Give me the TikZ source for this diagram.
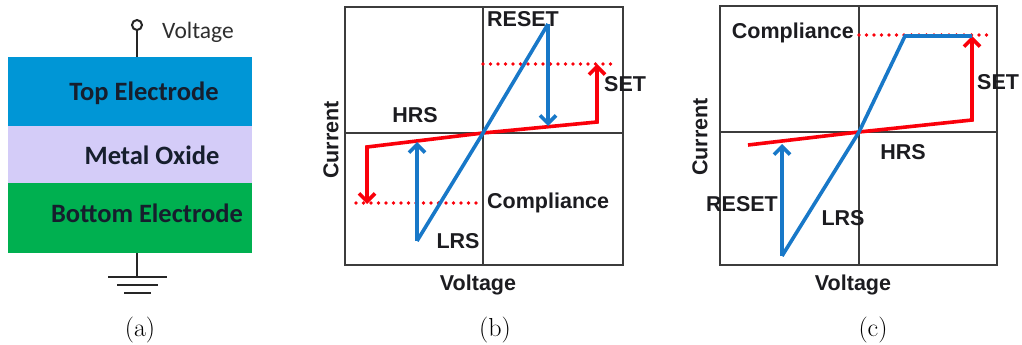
\documentclass[tikz,border=0pt]{standalone}
\usepackage{fontspec}
\newfontfamily\labfont{Liberation Sans}
\newfontfamily\calfont{Carlito}
\usetikzlibrary{arrows.meta}
\definecolor{topblue}{RGB}{0,150,214}
\definecolor{oxide}{RGB}{212,204,248}
\definecolor{botgreen}{RGB}{0,176,80}
\definecolor{curveblue}{RGB}{24,120,200}
\definecolor{curvered}{RGB}{250,0,10}
\definecolor{labelcol}{RGB}{28,28,32}
\definecolor{layertext}{RGB}{22,30,45}
\definecolor{framecol}{RGB}{60,60,60}
\tikzset{
  frameline/.style={draw=framecol, line width=2.2pt},
  blueline/.style={draw=curveblue, line width=3.6pt, line join=miter},
  redline/.style={draw=curvered, line width=3.6pt, line join=miter},
  barbend/.style={-{Straight Barb[length=8pt,width=16pt]}},
  barbboth/.style={{Straight Barb[length=8pt,width=16pt]}-{Straight Barb[length=8pt,width=16pt]}},
  dotline/.style={draw=curvered, line width=3.8pt, dash pattern=on 0pt off 7.5pt, line cap=round},
  lbl/.style={font=\labfont\bfseries\fontsize{21.5}{24}\selectfont, text=labelcol, inner sep=0pt},
  layerlbl/.style={font=\calfont\bfseries\fontsize{26.5}{28}\selectfont, text=layertext, inner sep=0pt},
  caplbl/.style={font=\fontsize{26}{30}\selectfont, inner sep=0pt},
  wire/.style={draw=black!85, line width=2.4pt}
}
\begin{document}
\begin{tikzpicture}[x=1pt,y=-1pt]
\useasboundingbox (0,0) rectangle (1022,345);
% ---------- panel (a)
\fill[topblue] (8,57) rectangle (252,126);
\fill[oxide] (8,126) rectangle (252,183);
\fill[botgreen] (8,183) rectangle (252,253);
\node[layerlbl] (te) at (144,93) {Top Electrode};
\node[layerlbl] (mo) at (152,155) {Metal Oxide};
\node[layerlbl] (be) at (147,213) {Bottom Electrode};
\node[circle, draw=black!85, line width=2pt, minimum size=10pt, inner sep=0pt] (term) at (137,25) {};
\coordinate (topc) at (137,57);
\draw[wire] (term.south) -- (topc);
\node[font=\calfont\fontsize{23.5}{26}\selectfont, text=black!82, anchor=west, inner sep=0pt] (volt) at (162,32) {Voltage};
\coordinate (botc) at (137,253);
\coordinate (g1) at (137,277);
\draw[wire] (botc) -- (g1);
\draw[wire] (108,277) -- (167,277);
\draw[wire] (117,285) -- (158,285);
\draw[wire] (124,293) -- (151,293);
\node[caplbl] (capa) at (140,330) {(a)};
% ---------- panel (b)
\draw[frameline] (345,7) rectangle (623,265);
\coordinate (bT) at (483,7); \coordinate (bB) at (483,265);
\coordinate (bL) at (345,133); \coordinate (bR) at (623,133);
\draw[frameline] (bT) -- (bB);
\draw[frameline] (bL) -- (bR);
\coordinate (bO) at (483,133);
\coordinate (bLow) at (417,241);
\coordinate (bHigh) at (548,24);
\coordinate (bDownEnd) at (548,126);
\coordinate (bUpEnd) at (417,142);
\coordinate (bRl) at (367,147);
\coordinate (bRlEnd) at (367,204);
\coordinate (bRr) at (597,122);
\coordinate (bRrEnd) at (597,64);
\coordinate (bD1a) at (483,64); \coordinate (bD1b) at (612,64);
\coordinate (bD2a) at (356,203); \coordinate (bD2b) at (483,203);
\draw[dotline] (bD1a) -- (bD1b);
\draw[dotline] (bD2a) -- (bD2b);
\draw[redline, barbboth] (bRlEnd) -- (bRl) -- (bO) -- (bRr) -- (bRrEnd);
\draw[blueline] (bLow) -- (bO) -- (bHigh);
\draw[blueline, barbend] (bHigh) -- (bDownEnd);
\draw[blueline, barbend] (bLow) -- (bUpEnd);
\node[lbl] (bReset) at (523,19) {RESET};
\node[lbl, anchor=west] (bSet) at (604,84) {SET};
\node[lbl] (bHrs) at (415,115) {HRS};
\node[lbl, anchor=west] (bComp) at (487,203) {Compliance};
\node[lbl] (bLrs) at (458,241) {LRS};
\node[lbl] (bVolt) at (478,285) {Voltage};
\node[lbl, rotate=90] (bCur) at (331,140) {Current};
\node[caplbl] (capb) at (495,330) {(b)};
% ---------- panel (c)
\draw[frameline] (720,6) rectangle (997,265);
\coordinate (cT) at (859,6); \coordinate (cB) at (859,265);
\coordinate (cL) at (720,132); \coordinate (cR) at (997,132);
\draw[frameline] (cT) -- (cB);
\draw[frameline] (cL) -- (cR);
\coordinate (cO) at (859,132);
\coordinate (cLow) at (782,256);
\coordinate (cKnee) at (905,36);
\coordinate (cEnd) at (972,36);
\coordinate (cUpEnd) at (782,144);
\coordinate (cRl) at (748,145);
\coordinate (cRr) at (972,120);
\coordinate (cRrEnd) at (972,36);
\coordinate (cD1a) at (859,35); \coordinate (cD1b) at (988,35);
\draw[dotline] (cD1a) -- (cD1b);
\draw[redline, barbend] (cRl) -- (cO) -- (cRr) -- (cRrEnd);
\draw[blueline] (cLow) -- (cO) -- (cKnee) -- (cEnd);
\draw[blueline, barbend] (cLow) -- (cUpEnd);
\node[lbl, anchor=east] (cComp) at (854,33) {Compliance};
\node[lbl, anchor=west] (cSet) at (977,82) {SET};
\node[lbl] (cHrs) at (903,152) {HRS};
\node[lbl] (cReset) at (742,204) {RESET};
\node[lbl] (cLrs) at (843,218) {LRS};
\node[lbl] (cVolt) at (853,285) {Voltage};
\node[lbl, rotate=90] (cCur) at (700,137) {Current};
\node[caplbl] (capc) at (873,330) {(c)};
\end{tikzpicture}
\end{document}
